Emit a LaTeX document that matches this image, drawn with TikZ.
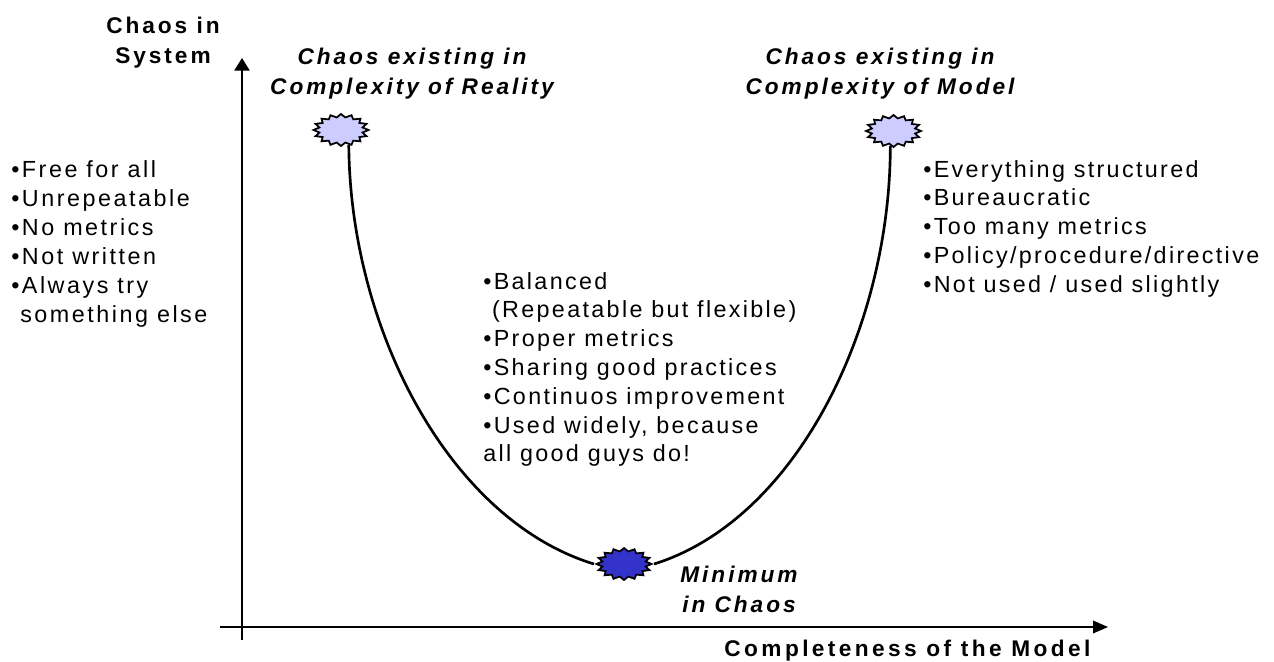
\documentclass[tikz,border=0pt]{standalone}
\usepackage{fontspec}
\setmainfont{Liberation Sans}
\newfontfamily\listfont[LetterSpace=10]{Liberation Sans}
\newfontfamily\sidefont[LetterSpace=10.8]{Liberation Sans}
\newfontfamily\headfont[LetterSpace=13]{Liberation Sans}
\newfontfamily\wideheadfont[LetterSpace=15]{Liberation Sans}
\usetikzlibrary{shapes.geometric,arrows.meta}
\definecolor{burstlight}{RGB}{204,204,255}
\definecolor{burstdark}{RGB}{51,51,204}
\tikzset{
  vaxis/.style={line width=1.1pt,-{Triangle[length=9.5pt,width=11.5pt]}},
  haxis/.style={line width=1.1pt,-{Triangle[length=11.25pt,width=9.5pt]}},
  curveline/.style={line width=2pt},
  burst/.style={shape=star,star points=16,star point ratio=1.25,draw=black,line width=1.3pt,inner sep=0pt,minimum size=24pt,transform shape,xscale=1.72},
  lightburst/.style={burst,fill=burstlight},
  darkburst/.style={burst,fill=burstdark},
  lbl/.style={font=\listfont\fontsize{17.5pt}{21.6pt}\selectfont,inner sep=0pt,align=left},
  sidelbl/.style={font=\sidefont\fontsize{17.5pt}{21.8pt}\selectfont,inner sep=0pt,align=left},
  boldlbl/.style={font=\headfont\fontsize{17pt}{22.2pt}\selectfont\bfseries,inner sep=0pt,align=center},
  itlbl/.style={font=\headfont\fontsize{17pt}{22.2pt}\selectfont\bfseries\itshape,inner sep=0pt,align=center},
  widelbl/.style={font=\wideheadfont\fontsize{17pt}{22.2pt}\selectfont\bfseries,inner sep=0pt,align=center},
}
\begin{document}
\begin{tikzpicture}[x=0.75pt,y=-0.75pt]
\useasboundingbox (0,0) rectangle (1274,661);
\coordinate (ytail) at (242,640);
\coordinate (yhead) at (242,58);
\coordinate (xtail) at (220,627);
\coordinate (xhead) at (1108,627);
\draw[vaxis] (ytail) -- (yhead);
\draw[haxis] (xtail) -- (xhead);
\node[lightburst] (bl) at (341,130) {};
\node[lightburst] (br) at (893.5,131) {};
\node[darkburst] (bm) at (624,564) {};
\draw[curveline] (bl.-73) .. controls (350,330) and (450,520) .. (bm.west);
\draw[curveline] (bm.east) .. controls (795,520) and (890,330) .. (br.-97);
\node[boldlbl,anchor=north] (ty) at (163,17) {Chaos in\\System};
\node[itlbl,anchor=north] (tl) at (412,48) {Chaos existing in\\Complexity of Reality};
\node[itlbl,anchor=north] (tr) at (880,48) {Chaos existing in\\Complexity of Model};
\node[sidelbl,anchor=north west] (ll) at (11,160) {•Free for all\\•Unrepeatable\\•No metrics\\•Not written\\•Always try\\\ something else};
\node[lbl,anchor=north west] (rl) at (923,160) {•Everything structured\\•Bureaucratic\\•Too many metrics\\•Policy/procedure/directive\\•Not used / used slightly};
\node[lbl,anchor=north west] (ml) at (483,272) {•Balanced\\\ (Repeatable but flexible)\\•Proper metrics\\•Sharing good practices\\•Continuos improvement\\•Used widely, because\\all good guys do!};
\node[itlbl,anchor=north] (mc) at (739,566) {Minimum\\in Chaos};
\node[widelbl,anchor=north] (cm) at (907.5,640) {Completeness of the Model};
\end{tikzpicture}
\end{document}
